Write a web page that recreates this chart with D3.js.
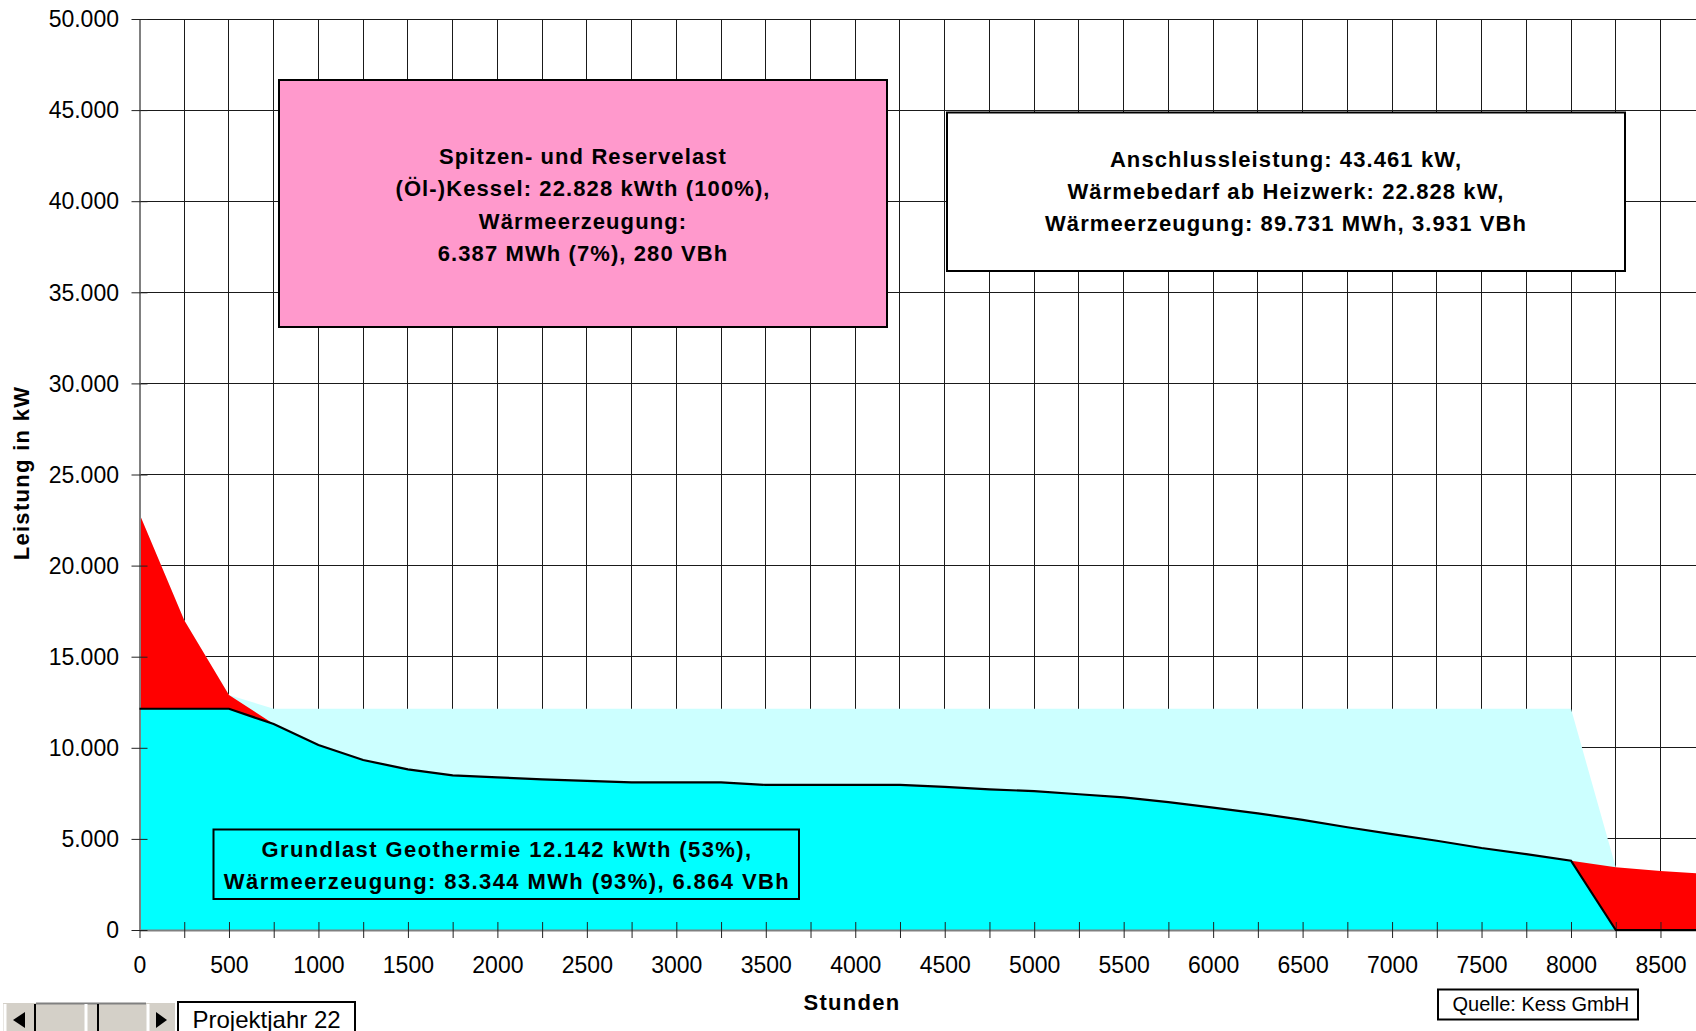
<!DOCTYPE html>
<html>
<head>
<meta charset="utf-8">
<script src="https://cdn.jsdelivr.net/npm/d3@7"></script>
<style>
  body { margin: 0; background: #fff; }
  svg { display: block; font-family: "Liberation Sans", Arial, sans-serif; }
</style>
</head>
<body>
<svg id="chart"></svg>
<script>
// Jahresdauerlinie, Stuetzstellen alle 250 h
const stunden = [0, 250, 500, 750, 1000, 1250, 1500, 1750, 2000, 2250, 2500, 2750,
  3000, 3250, 3500, 3750, 4000, 4250, 4500, 4750, 5000, 5250, 5500, 5750,
  6000, 6250, 6500, 6750, 7000, 7250, 7500, 7750, 8000, 8250, 8500, 8760];

// Waermebedarf gesamt (rot)
const waermebedarf = [22828, 17000, 12900, 11305, 10150, 9330, 8820, 8490, 8380, 8270, 8180, 8100,
  8100, 8100, 7960, 7960, 7960, 7960, 7860, 7720, 7620, 7450, 7280, 7020,
  6720, 6400, 6040, 5640, 5260, 4900, 4500, 4160, 3800, 3440, 3240, 3080];

// Grundlast-Bereich (hellcyan)
const grundlastBereich = [22828, 17000, 12900, 12142, 12142, 12142, 12142, 12142, 12142, 12142, 12142, 12142,
  12142, 12142, 12142, 12142, 12142, 12142, 12142, 12142, 12142, 12142, 12142, 12142,
  12142, 12142, 12142, 12142, 12142, 12142, 12142, 12142, 12142, 3440, 0, 0];

// Grundlast Geothermie (cyan)
const geothermie = [12142, 12142, 12142, 11305, 10150, 9330, 8820, 8490, 8380, 8270, 8180, 8100,
  8100, 8100, 7960, 7960, 7960, 7960, 7860, 7720, 7620, 7450, 7280, 7020,
  6720, 6400, 6040, 5640, 5260, 4900, 4500, 4160, 3800, 0, 0, 0];

const yTickWerte = [0, 5000, 10000, 15000, 20000, 25000, 30000, 35000, 40000, 45000, 50000];
const xTickWerte = [0, 500, 1000, 1500, 2000, 2500, 3000, 3500, 4000, 4500, 5000, 5500, 6000, 6500, 7000, 7500, 8000, 8500];

const textSpitzenlast = ["Spitzen- und Reservelast", "(Öl-)Kessel: 22.828 kWth (100%),", "Wärmeerzeugung:", "6.387 MWh (7%), 280 VBh"];
const textAnschluss = ["Anschlussleistung: 43.461 kW,", "Wärmebedarf ab Heizwerk: 22.828 kW,", "Wärmeerzeugung: 89.731 MWh, 3.931 VBh"];
const textGrundlast = ["Grundlast Geothermie 12.142 kWth (53%),", "Wärmeerzeugung: 83.344 MWh (93%), 6.864 VBh"];

class DauerlinieChart {

  constructor(config) {
    this.config = {
      parent: config.parent,
      width: config.width || 1696,
      height: config.height || 1031,
      margin: config.margin || {top: 19, right: -11, bottom: 101, left: 139.5}
    };
    this.init();
  }

  init() {
    let self = this;

    self.svg = d3.select(self.config.parent)
      .attr('width', self.config.width)
      .attr('height', self.config.height);

    self.inner_width = self.config.width - self.config.margin.left - self.config.margin.right;
    self.inner_height = self.config.height - self.config.margin.top - self.config.margin.bottom;

    self.chart = self.svg.append('g')
      .attr('transform', `translate(${self.config.margin.left}, ${self.config.margin.top})`);

    self.xscale = d3.scaleLinear()
      .domain([0, 8760])
      .range([0, self.inner_width]);

    self.yscale = d3.scaleLinear()
      .domain([0, 50000])
      .range([self.inner_height, 0]);

    self.de = d3.formatLocale({decimal: ",", thousands: ".", grouping: [3], currency: ["", " €"]});
  }

  render() {
    let self = this;
    const idx = d3.range(stunden.length);

    // Gitternetz
    const grid = self.chart.append('g')
      .attr('stroke', '#1a1a1a')
      .attr('stroke-width', 1)
      .attr('shape-rendering', 'crispEdges');
    grid.selectAll('.v')
      .data(d3.range(250, 8760, 250))
      .join('line')
      .attr('x1', d => self.xscale(d)).attr('x2', d => self.xscale(d))
      .attr('y1', 0).attr('y2', self.inner_height);
    grid.selectAll('.h')
      .data(yTickWerte.slice(1))
      .join('line')
      .attr('x1', 0).attr('x2', self.inner_width)
      .attr('y1', d => self.yscale(d)).attr('y2', d => self.yscale(d));

    const area = values => d3.area()
      .x(i => self.xscale(stunden[i]))
      .y0(self.yscale(0))
      .y1(i => self.yscale(values[i]))(idx);

    self.chart.append('path').attr('d', area(grundlastBereich)).attr('fill', '#CCFFFF');
    self.chart.append('path').attr('d', area(waermebedarf)).attr('fill', '#FF0000');
    self.chart.append('path').attr('d', area(geothermie)).attr('fill', '#00FFFF');

    // Achsen
    const xaxis = d3.axisBottom(self.xscale)
      .tickValues(d3.range(0, 8760, 250))
      .tickFormat(d => xTickWerte.includes(d) ? d : '')
      .tickSizeOuter(0);
    const xg = self.chart.append('g')
      .attr('transform', `translate(0, ${self.inner_height})`)
      .call(xaxis)
      .attr('font-family', null).attr('font-size', 23);
    xg.select('.domain').attr('stroke', '#808080').attr('stroke-width', 2);
    xg.selectAll('.tick line').attr('y1', -8).attr('y2', 8).attr('stroke', '#222');
    xg.selectAll('.tick text').attr('y', 43).attr('dy', null).attr('fill', '#000');

    const yaxis = d3.axisLeft(self.yscale)
      .tickValues(yTickWerte)
      .tickFormat(self.de.format(',.0f'))
      .tickSizeOuter(0);
    const yg = self.chart.append('g')
      .call(yaxis)
      .attr('font-family', null).attr('font-size', 23);
    yg.select('.domain').attr('stroke', '#808080').attr('stroke-width', 2);
    yg.selectAll('.tick line').attr('x1', -8).attr('x2', 8).attr('stroke', '#222');
    yg.selectAll('.tick text').attr('x', -20.5).attr('y', 7.7).attr('dy', null).attr('fill', '#000');

    // Linie Geothermie
    self.chart.append('path')
      .attr('d', d3.line().x(i => self.xscale(stunden[i])).y(i => self.yscale(geothermie[i]))(idx))
      .attr('fill', 'none')
      .attr('stroke', '#000')
      .attr('stroke-width', 2.2);

    // Achsentitel
    self.svg.append('text')
      .attr('transform', 'translate(29, 473) rotate(-90)')
      .attr('text-anchor', 'middle')
      .attr('font-size', 22).attr('font-weight', 'bold')
      .style('letter-spacing', '1.3px')
      .text('Leistung in kW');

    self.svg.append('text')
      .attr('x', 852).attr('y', 1010)
      .attr('text-anchor', 'middle')
      .attr('font-size', 22).attr('font-weight', 'bold')
      .style('letter-spacing', '1.3px')
      .text('Stunden');

    // Textfelder
    self.textBox({x: 279, y: 80, w: 608, h: 247, fill: '#FF99CC', cx: 583, base: 164, step: 32.3, ls: 1.1}, textSpitzenlast);
    self.textBox({x: 947, y: 112.5, w: 678, h: 158.5, fill: '#FFFFFF', cx: 1286, base: 166.7, step: 32.3, ls: 1.1}, textAnschluss);
    self.textBox({x: 213.5, y: 829.5, w: 585.5, h: 69.5, fill: 'none', cx: 507, base: 856.7, step: 32.4, ls: 1.4}, textGrundlast);

    // Quelle
    self.svg.append('rect')
      .attr('x', 1438).attr('y', 989.5).attr('width', 200).attr('height', 30)
      .attr('fill', '#fff').attr('stroke', '#000').attr('stroke-width', 2);
    self.svg.append('text')
      .attr('x', 1452.5).attr('y', 1011)
      .attr('font-size', 20)
      .text('Quelle: Kess GmbH');

    self.scrollbar();
  }

  textBox(b, lines) {
    let self = this;
    self.svg.append('rect')
      .attr('x', b.x).attr('y', b.y).attr('width', b.w).attr('height', b.h)
      .attr('fill', b.fill).attr('stroke', '#000').attr('stroke-width', 2);
    self.svg.append('g')
      .selectAll('text')
      .data(lines)
      .join('text')
      .attr('x', b.cx)
      .attr('y', (d, i) => b.base + i * b.step)
      .attr('text-anchor', 'middle')
      .attr('font-size', 22).attr('font-weight', 'bold')
      .style('letter-spacing', b.ls + 'px')
      .text(d => d);
  }

  scrollbar() {
    let self = this;
    const g = self.svg.append('g');
    g.append('rect').attr('x', 3).attr('y', 1003).attr('width', 172).attr('height', 30).attr('fill', '#D4D0C8');
    g.append('line').attr('x1', 36).attr('x2', 146).attr('y1', 1003.5).attr('y2', 1003.5).attr('stroke', '#808080').attr('stroke-width', 2);
    [5, 86, 148].forEach(x => {
      g.append('line').attr('x1', x).attr('x2', x).attr('y1', 1004).attr('y2', 1031).attr('stroke', '#fff').attr('stroke-width', 3);
    });
    [35, 98].forEach(x => {
      g.append('line').attr('x1', x).attr('x2', x).attr('y1', 1004).attr('y2', 1031).attr('stroke', '#000').attr('stroke-width', 2);
    });
    g.append('path').attr('d', 'M13,1020 L25,1012 L25,1028 Z').attr('fill', '#000');
    g.append('path').attr('d', 'M167,1020 L156,1012 L156,1028 Z').attr('fill', '#000');

    g.append('rect')
      .attr('x', 178).attr('y', 1002).attr('width', 177).attr('height', 32)
      .attr('fill', '#fff').attr('stroke', '#000').attr('stroke-width', 2);
    g.append('text')
      .attr('x', 192.5).attr('y', 1027.5)
      .attr('font-size', 24)
      .text('Projektjahr 22');
  }
}

const chart = new DauerlinieChart({parent: '#chart'});
chart.render();
</script>
</body>
</html>
